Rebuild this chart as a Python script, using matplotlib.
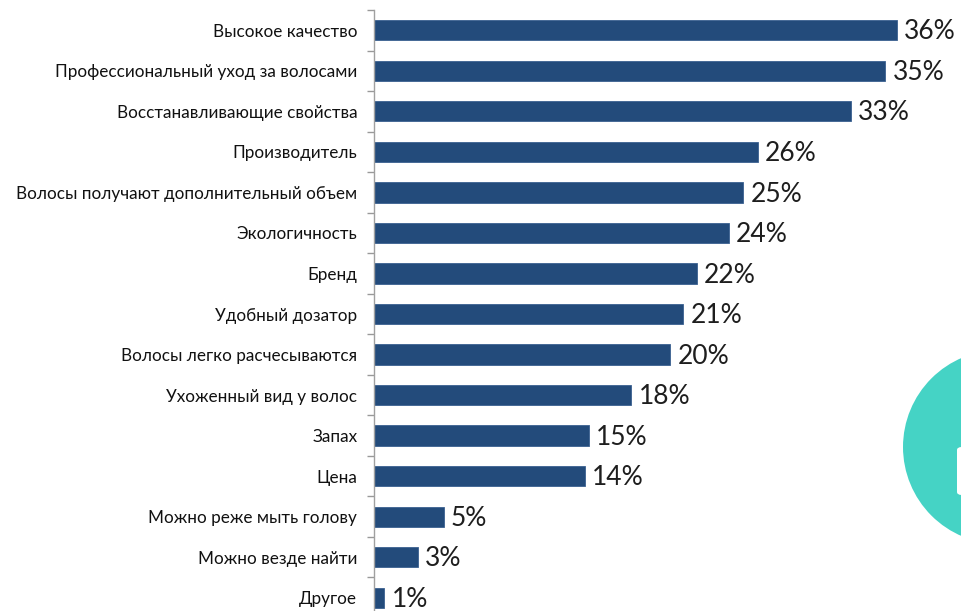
import matplotlib
matplotlib.use("Agg")
import matplotlib.pyplot as plt
from matplotlib.patches import Ellipse, FancyBboxPatch

categories = [
    "Высокое качество",
    "Профессиональный уход за волосами",
    "Восстанавливающие свойства",
    "Производитель",
    "Волосы получают дополнительный объем",
    "Экологичность",
    "Бренд",
    "Удобный дозатор",
    "Волосы легко расчесываются",
    "Ухоженный вид у волос",
    "Запах",
    "Цена",
    "Можно реже мыть голову",
    "Можно везде найти",
    "Другое",
]
bar_values = [36.0, 35.2, 32.8, 26.4, 25.4, 24.4, 22.2, 21.3, 20.4, 17.7, 14.8, 14.5, 4.8, 3.0, 0.7]
value_labels = ["36%", "35%", "33%", "26%", "25%", "24%", "22%", "21%", "20%", "18%",
                "15%", "14%", "5%", "3%", "1%"]

W, H = 962, 611
fig = plt.figure(figsize=(W / 100, H / 100), dpi=100)
fig.patch.set_facecolor("white")

left = 374 / W
top_px = 10
bottom_px = 618
ax = fig.add_axes([left, 1 - bottom_px / H, 40 * 14.53 / W, (bottom_px - top_px) / H])
ax.set_facecolor("none")

n = len(categories)
ypos = list(range(n))
ax.barh(ypos, bar_values, height=0.5, color="#234b7b", edgecolor="#3b6190", linewidth=0.6, zorder=2)
ax.set_ylim(n - 0.5, -0.5)
ax.set_xlim(0, 40)

for y, v, lab in zip(ypos, bar_values, value_labels):
    ax.text(v + 0.5, y + 0.04, lab, va="center", ha="left", fontsize=19,
            family="Lato", color="#1e1e1e")

ax.set_yticks(ypos)
ax.set_yticklabels(categories, fontsize=12.3, family="Lato", color="#111111")
ax.tick_params(axis="y", which="major", length=0, pad=12)
ax.set_yticks([i + 0.5 for i in range(-1, n)], minor=True)
ax.tick_params(axis="y", which="minor", length=5, color="#999999", width=1)
ax.set_xticks([])

for s in ["top", "right", "bottom"]:
    ax.spines[s].set_visible(False)
ax.spines["left"].set_color("#a0a0a0")
ax.spines["left"].set_linewidth(1.0)

# decorative teal circle on the right edge
circ = Ellipse((1000 / W, 1 - 447 / H), 2 * 97 / W, 2 * 97 / H, transform=fig.transFigure,
               facecolor="#45d3c5", edgecolor="none", zorder=5)
fig.patches.append(circ)
rect = FancyBboxPatch((957 / W, 1 - 495 / H), 10 / W, 48 / H, boxstyle="round,pad=0,rounding_size=0.005",
                      transform=fig.transFigure, facecolor="white", edgecolor="none", zorder=6)
fig.patches.append(rect)

fig.savefig("out.png", dpi=100)
